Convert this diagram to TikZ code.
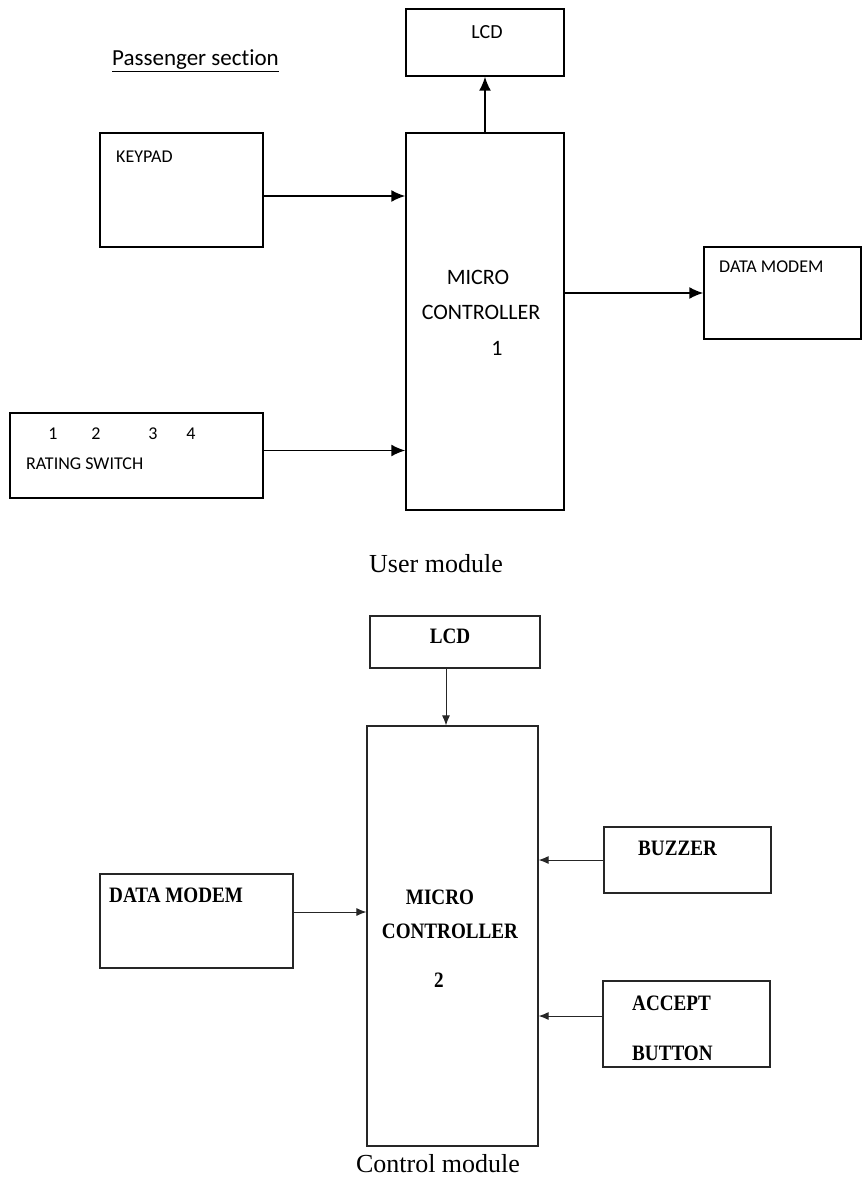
\documentclass[tikz,border=0pt]{standalone}
\usepackage{fontspec}
\setmainfont{Liberation Serif}
\newfontfamily\calfont[Ligatures=NoCommon]{Carlito}
\newfontfamily\tnrfont[FakeStretch=0.87]{Liberation Serif}
\usetikzlibrary{arrows.meta,positioning,fit}
\tikzset{
  blk/.style={draw=black,line width=1.5pt,inner sep=0pt},
  blkb/.style={draw=black!85,line width=1.2pt,inner sep=0pt},
  usr/.style={font=\calfont\fontsize{18}{20}\selectfont,inner sep=0pt,text=black},
  ctl/.style={font=\tnrfont\bfseries\fontsize{22}{24}\selectfont,inner sep=0pt},
  capt/.style={font=\fontsize{26}{28}\selectfont,inner sep=0pt,anchor=base},
  arr/.style={-{Latex[length=14pt,width=12pt]},line width=1.5pt},
  arrb/.style={-{Latex[length=10pt,width=8pt]},line width=1pt,black!85},
}

\begin{document}
\begin{tikzpicture}[x=1pt,y=-1pt]
  \useasboundingbox (0,0) rectangle (862,1177);
  % user module
  \node[usr,anchor=base west,font=\calfont\fontsize{23}{25}\selectfont] (title) at (112,66) {\underline{Passenger section}};
  \node[blk,fit={(406,9)(564,76)}] (lcdA) {};
  \node[blk,fit={(100,133)(263,247)}] (keypad) {};
  \node[blk,fit={(406,133)(564,510)}] (mcA) {};
  \node[blk,fit={(704,247)(861,339)}] (modemA) {};
  \node[blk,fit={(10,413)(263,498)}] (rating) {};
  \node[usr,font=\calfont\fontsize{20}{22}\selectfont] (lcdAt) at (487,32) {LCD};
  \node[usr,anchor=west] (keypadt) at (116,157) {KEYPAD};
  \node[usr,anchor=west] (modemAt) at (719,267) {DATA MODEM};
  \node[usr,anchor=west] (ratingt) at (26,464) {RATING SWITCH};
  \foreach \x/\n in {53/1,96/2,153/3,191/4}
    \node[usr] (sw\n) at (\x,434) {\n};
  \node[usr,font=\calfont\fontsize{22}{24}\selectfont] (mcAa) at (478,277) {MICRO};
  \node[usr,font=\calfont\fontsize{22}{24}\selectfont] (mcAb) at (481,312) {CONTROLLER};
  \node[usr,font=\calfont\fontsize{22}{24}\selectfont] (mcAc) at (497,348) {1};
  \coordinate (k1) at ([yshift=-6pt]keypad.east);
  \coordinate (r1) at ([yshift=5pt]rating.east);
  \draw[arr] (k1) -- (k1 -| mcA.west);
  \draw[arr] (r1) -- (r1 -| mcA.west);
  \draw[arr] (mcA.north) -- (lcdA.south);
  \draw[arr] (mcA.east |- modemA.west) -- (modemA.west);
  \node[capt] (capA) at (436,572) {User module};
  % control module
  \node[blkb,fit={(370,616)(540,668)}] (lcdB) {};
  \node[blkb,fit={(367,726)(538,1146)}] (mcB) {};
  \node[blkb,fit={(604,827)(771,893)}] (buzzer) {};
  \node[blkb,fit={(100,874)(293,968)}] (modemB) {};
  \node[blkb,fit={(603,981)(770,1067)}] (accept) {};
  \node[ctl] (lcdBt) at (450,636) {LCD};
  \node[ctl,anchor=west] (buzzert) at (638,848) {BUZZER};
  \node[ctl,anchor=west] (modemBt) at (109,895) {DATA MODEM};
  \node[ctl,anchor=west] (acceptt) at (632,1003) {ACCEPT};
  \node[ctl,anchor=west] (buttont) at (632,1053) {BUTTON};
  \node[ctl] (mcBa) at (440,897) {MICRO};
  \node[ctl] (mcBb) at (450,931) {CONTROLLER};
  \node[ctl] (mcBc) at (439,980) {2};
  \coordinate (l1) at ([xshift=-9pt]lcdB.south);
  \coordinate (m1) at ([yshift=9pt]modemB.east);
  \coordinate (a1) at ([yshift=8pt]accept.west);
  \draw[arrb] (l1) -- (l1 |- mcB.north);
  \draw[arrb] (buzzer.west) -- (buzzer.west -| mcB.east);
  \draw[arrb] (m1) -- (m1 -| mcB.west);
  \draw[arrb] (a1) -- (a1 -| mcB.east);
  \node[capt] (capB) at (438,1172) {Control module};
\end{tikzpicture}
\end{document}
